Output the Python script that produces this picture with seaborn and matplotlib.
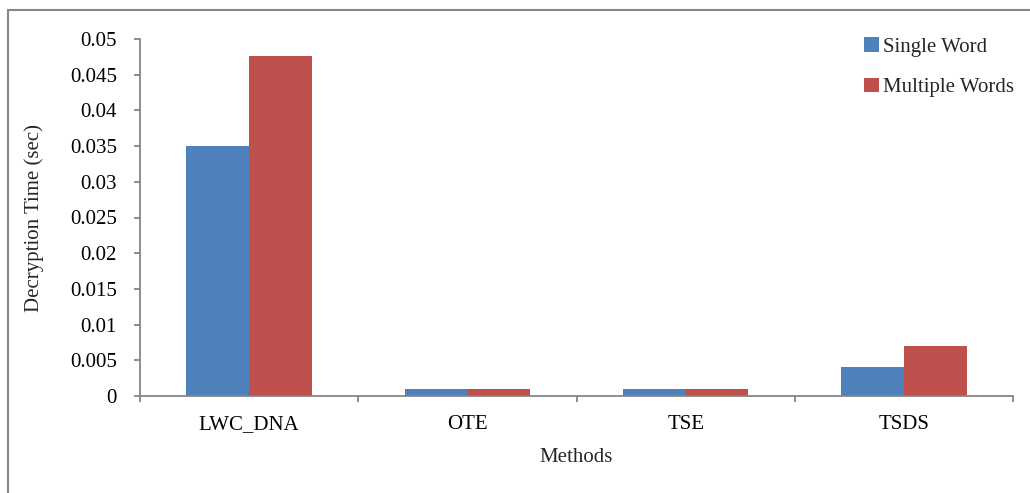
import matplotlib
matplotlib.use("Agg")
import matplotlib.pyplot as plt
import seaborn as sns
import pandas as pd
from matplotlib.patches import Rectangle, Patch

methods = ["LWC_DNA", "OTE", "TSE", "TSDS"]
single_word = [0.035, 0.001, 0.001, 0.004]
multiple_words = [0.0476, 0.001, 0.001, 0.007]
series_names = ["Single Word", "Multiple Words"]
colors = ["#4F81BD", "#C0504D"]
yticks = [0, 0.005, 0.01, 0.015, 0.02, 0.025, 0.03, 0.035, 0.04, 0.045, 0.05]
ytick_labels = ["0", "0.005", "0.01", "0.015", "0.02", "0.025", "0.03", "0.035", "0.04", "0.045", "0.05"]

df = pd.DataFrame({
    "Method": methods * 2,
    "Series": [series_names[0]] * 4 + [series_names[1]] * 4,
    "Value": single_word + multiple_words,
})

sns.set_style("white")
plt.rcParams["font.family"] = ["Liberation Serif", "DejaVu Serif"]

fig = plt.figure(figsize=(10.3, 4.93), dpi=100)
ax = fig.add_axes([140/1030, 1-396/493, (1013-140)/1030, (396-39)/493])

sns.barplot(data=df, x="Method", y="Value", hue="Series", palette=colors,
            width=0.574, ax=ax, legend=False, saturation=1, edgecolor="none")

gray = "#868686"
fs = 15
ax.set_xlim(-0.5, 3.5)
ax.set_ylim(0, 0.05)
ax.set_yticks(yticks)
ax.set_yticklabels(ytick_labels, fontsize=fs, color="black")
ax.set_xticks(range(4))
ax.set_xticklabels(methods, fontsize=fs, color="black")
ax.set_xticks([-0.5, 0.5, 1.5, 2.5, 3.5], minor=True)
ax.tick_params(axis="x", which="major", bottom=True, length=0, pad=14)
ax.tick_params(axis="x", which="minor", bottom=True, length=4.5, color=gray, width=1.3, direction="out")
ax.tick_params(axis="y", left=True, length=4.5, color=gray, width=1.3, direction="out", pad=12)
for s in ["top", "right"]:
    ax.spines[s].set_visible(False)
for s in ["left", "bottom"]:
    ax.spines[s].set_color(gray)
    ax.spines[s].set_linewidth(1.3)
ax.set_xlabel("Methods", fontsize=fs, labelpad=10)
ax.set_ylabel("Decryption Time (sec)", fontsize=fs, labelpad=19)
ax.grid(False)

handles = [Patch(facecolor=c, edgecolor="none", label=n) for c, n in zip(colors, series_names)]
fig.legend(handles=handles, loc="upper left", bbox_to_anchor=(854/1030, 1-27/493),
           frameon=False, fontsize=fs, handlelength=0.7, handleheight=0.7,
           handletextpad=0.2, labelspacing=1.0, borderpad=0)

fig.patches.append(Rectangle((8/1030, -0.2), 1.2, (493-10)/493 + 0.2, transform=fig.transFigure,
                             fill=False, edgecolor=gray, linewidth=1.5, figure=fig))

fig.savefig("out.png", dpi=100)
